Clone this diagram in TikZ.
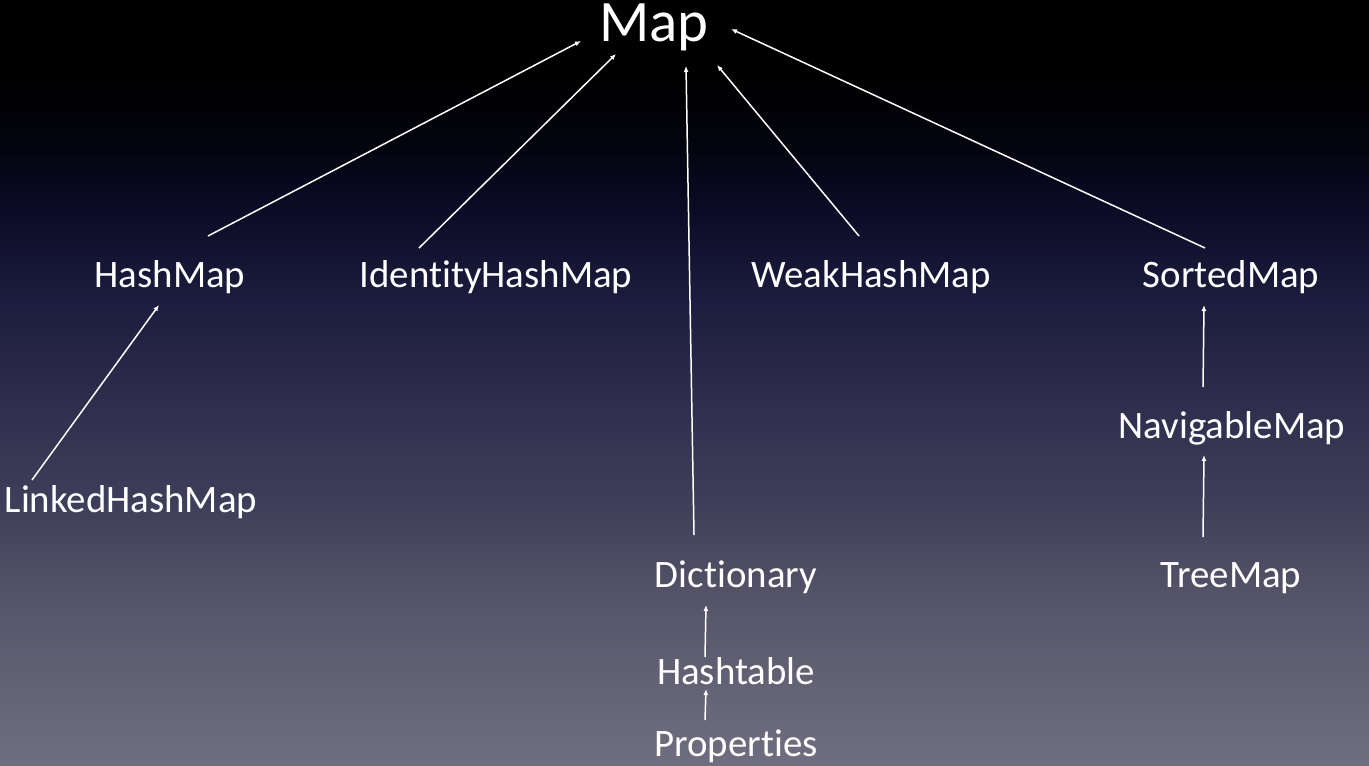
\documentclass[tikz,border=0pt]{standalone}
\usepackage{fontspec}
\setmainfont{Carlito}[RawFeature={-liga;-dlig}]
\usetikzlibrary{arrows.meta}
\definecolor{c0}{RGB}{0,0,0}
\definecolor{c1}{RGB}{1,1,4}
\definecolor{c1b}{RGB}{4,4,16}
\definecolor{c2}{RGB}{10,10,36}
\definecolor{c3}{RGB}{28,28,62}
\definecolor{c4}{RGB}{46,45,76}
\definecolor{c5}{RGB}{63,62,90}
\definecolor{c6}{RGB}{85,84,104}
\definecolor{c7}{RGB}{102,101,120}
\definecolor{c8}{RGB}{111,109,128}
\tikzset{
  lbl/.style={text=white, font=\fontsize{39}{41}\selectfont, inner sep=0pt, anchor=base},
  big/.style={text=white, font=\fontsize{59}{61}\selectfont, inner sep=0pt, anchor=base},
  arr/.style={white, line width=1.5bp, -{Latex[length=6bp,width=5bp]}},
  band/.style={draw=none}
}
\begin{document}
\begin{tikzpicture}[x=1bp,y=-1bp]
\useasboundingbox (0,0) rectangle (1369,765);
% background gradient in bands
\fill[c0] (0,0) rectangle (1369,61);
\shade[band, top color=c0, bottom color=c1] (0,60) rectangle (1369,101);
\shade[band, top color=c1, bottom color=c1b] (0,100) rectangle (1369,151);
\shade[band, top color=c1b, bottom color=c2] (0,150) rectangle (1369,201);
\shade[band, top color=c2, bottom color=c3] (0,200) rectangle (1369,301);
\shade[band, top color=c3, bottom color=c4] (0,300) rectangle (1369,401);
\shade[band, top color=c4, bottom color=c5] (0,400) rectangle (1369,501);
\shade[band, top color=c5, bottom color=c6] (0,500) rectangle (1369,601);
\shade[band, top color=c6, bottom color=c7] (0,600) rectangle (1369,701);
\shade[band, top color=c7, bottom color=c8] (0,700) rectangle (1369,765);
% nodes
\node[big] (map) at (654,42) {Map};
\node[lbl] (hashmap) at (170,287) {HashMap};
\node[lbl] (ihm) at (496,287) {IdentityHashMap};
\node[lbl] (whm) at (871,287) {WeakHashMap};
\node[lbl] (sorted) at (1231,287) {SortedMap};
\node[lbl] (lhm) at (131,512) {LinkedHashMap};
\node[lbl] (nav) at (1232,438) {NavigableMap};
\node[lbl] (dict) at (736,587) {Dictionary};
\node[lbl] (tree) at (1231,587) {TreeMap};
\node[lbl] (htab) at (736,684) {Hashtable};
\node[lbl] (props) at (736,756) {Properties};
% connector end points
\coordinate (hm-s) at (208,236);   \coordinate (hm-t) at (581,41);
\coordinate (ihm-s) at (419,248);  \coordinate (ihm-t) at (616,54);
\coordinate (dict-s) at (694,535); \coordinate (dict-t) at (686,66);
\coordinate (whm-s) at (859,236);  \coordinate (whm-t) at (717,65);
\coordinate (sm-s) at (1205,248);  \coordinate (sm-t) at (731,29);
\coordinate (lhm-s) at (32,480);   \coordinate (lhm-t) at (159,305);
\coordinate (nav-s) at (1203,387); \coordinate (nav-t) at (1204,305);
\coordinate (tree-s) at (1203,537);\coordinate (tree-t) at (1204,455);
\coordinate (ht-s) at (705,657);   \coordinate (ht-t) at (706,605);
\coordinate (pr-s) at (705,720);   \coordinate (pr-t) at (706,689);
\draw[arr] (hm-s) -- (hm-t);
\draw[arr] (ihm-s) -- (ihm-t);
\draw[arr] (dict-s) -- (dict-t);
\draw[arr] (whm-s) -- (whm-t);
\draw[arr] (sm-s) -- (sm-t);
\draw[arr] (lhm-s) -- (lhm-t);
\draw[arr] (nav-s) -- (nav-t);
\draw[arr] (tree-s) -- (tree-t);
\draw[arr] (ht-s) -- (ht-t);
\draw[arr] (pr-s) -- (pr-t);
\end{tikzpicture}
\end{document}
